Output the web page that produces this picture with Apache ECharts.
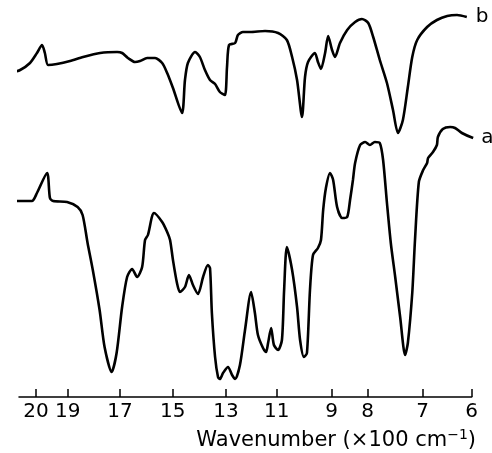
<!DOCTYPE html>
<html>
<head>
<meta charset="utf-8">
<script src="https://cdn.jsdelivr.net/npm/echarts@6/dist/echarts.min.js"></script>
<style>
  html, body { margin: 0; padding: 0; background: #fff; }
  #chart { width: 492px; height: 453px; }
</style>
</head>
<body>
<div id="chart"></div>
<script>
// tick labels (x100 cm-1)
const tickLabels = [20, 19, 17, 15, 13, 11, 9, 8, 7, 6]

// spectrum b (upper trace): wavenumber (x100 cm-1), transmittance (arb. units)
const wnB = [20.79, 20.50, 20.19, 19.97, 19.81, 19.72, 19.62, 19.34, 18.91, 18.41, 17.76, 17.11, 16.92, 16.70, 16.43, 16.24, 15.97, 15.67, 15.40, 15.21, 14.99, 14.65, 14.54, 14.43, 14.16, 13.98, 13.79, 13.60, 13.41, 13.23, 13.04, 12.96, 12.88, 12.64, 12.53, 12.33, 12.05, 11.46, 10.95, 10.63, 10.44, 10.26, 10.08, 9.97, 9.86, 9.61, 9.50, 9.39, 9.24, 9.13, 8.99, 8.91, 8.77, 8.57, 8.35, 8.16, 7.99, 7.90, 7.78, 7.65, 7.54, 7.45, 7.36, 7.27, 7.19, 7.10, 6.91, 6.71, 6.50, 6.30, 6.10]
const tB = [324, 327, 334, 344, 352, 344, 332, 333, 336, 340, 344, 345, 344, 339, 335, 336, 339, 339, 334, 324, 309, 284, 317, 334, 345, 340, 327, 317, 313, 305, 302, 330, 352, 354, 362, 365, 365, 366, 364, 357, 340, 317, 280, 320, 335, 344, 335, 328, 344, 361, 347, 340, 354, 367, 375, 378, 374, 360, 337, 314, 287, 264, 277, 310, 340, 357, 370, 377, 381, 382, 380]

// spectrum a (lower trace)
const wnA = [20.79, 20.13, 19.97, 19.65, 19.56, 19.46, 19.02, 18.62, 18.43, 18.24, 18.04, 17.78, 17.59, 17.32, 17.13, 16.92, 16.73, 16.54, 16.35, 16.16, 16.05, 15.94, 15.79, 15.71, 15.40, 15.21, 15.10, 14.99, 14.84, 14.73, 14.54, 14.39, 14.24, 14.05, 13.86, 13.68, 13.60, 13.53, 13.41, 13.30, 13.23, 13.11, 12.92, 12.76, 12.64, 12.45, 12.25, 12.01, 11.86, 11.74, 11.54, 11.42, 11.34, 11.22, 11.11, 10.95, 10.81, 10.73, 10.63, 10.44, 10.26, 10.15, 10.01, 9.90, 9.79, 9.68, 9.50, 9.39, 9.31, 9.21, 9.06, 8.96, 8.85, 8.71, 8.57, 8.49, 8.41, 8.35, 8.21, 8.07, 7.96, 7.87, 7.78, 7.72, 7.65, 7.58, 7.50, 7.41, 7.32, 7.27, 7.19, 7.14, 7.07, 6.99, 6.91, 6.89, 6.79, 6.71, 6.69, 6.59, 6.44, 6.34, 6.20, 5.97]
const tA = [196, 196, 204, 224, 199, 196, 195, 190, 182, 154, 127, 87, 50, 25, 44, 90, 120, 128, 120, 130, 157, 162, 180, 184, 175, 165, 157, 137, 114, 105, 110, 122, 112, 103, 120, 132, 129, 84, 40, 20, 18, 24, 30, 22, 18, 32, 67, 105, 84, 62, 49, 45, 54, 69, 52, 47, 57, 107, 150, 127, 90, 57, 40, 44, 107, 142, 149, 157, 187, 209, 224, 217, 190, 179, 180, 197, 217, 234, 252, 255, 252, 255, 254, 237, 194, 154, 120, 80, 42, 54, 104, 157, 215, 227, 234, 239, 245, 252, 260, 268, 270, 269, 264, 259]

// the printed wavenumber scale is not uniform: relative position of each tick
const SCALE_POS = [36, 67.7, 120, 172.7, 226, 276.7, 331.7, 367.7, 422.7, 471.7]

// wavenumber -> position on the drawn scale (piecewise linear)
function warp(wn) {
    const s = tickLabels, p = SCALE_POS
    let i = 0
    if (wn >= s[0]) i = 0
    else if (wn <= s[s.length - 1]) i = s.length - 2
    else while (!(wn <= s[i] && wn >= s[i + 1])) i++
    return p[i] + (wn - s[i]) * (p[i + 1] - p[i]) / (s[i + 1] - s[i])
}

const tickPos = tickLabels.map(warp)
const font = 'DejaVu Sans'

const chart = echarts.init(document.getElementById('chart'))
chart.setOption({
    animation: false,
    backgroundColor: '#fff',
    title: {
        text: 'Wavenumber (×100 cm{sup|−1})',
        right: 11,
        top: 423,
        textStyle: {
            fontFamily: font, fontSize: 21, fontWeight: 'normal', color: '#000', lineHeight: 25,
            rich: { sup: { fontFamily: font, fontSize: 14, color: '#000', padding: [0, 0, 10, 0] } }
        }
    },
    grid: { left: 19, right: 20.3, top: 0, bottom: 56 },
    xAxis: {
        type: 'value',
        min: 19,
        max: 471.7,
        axisLine: { lineStyle: { color: '#000', width: 1.5 } },
        axisTick: { inside: true, length: 8, customValues: tickPos, lineStyle: { color: '#000', width: 1.5 } },
        axisLabel: {
            customValues: tickPos,
            margin: 5,
            fontFamily: font, fontSize: 20, color: '#000',
            formatter: v => {
                let best = 0
                tickPos.forEach((p, i) => { if (Math.abs(p - v) < Math.abs(tickPos[best] - v)) best = i })
                return String(tickLabels[best])
            }
        },
        splitLine: { show: false }
    },
    yAxis: { type: 'value', min: 0, max: 397, show: false },
    series: [
        {
            name: 'b', type: 'line', clip: false, showSymbol: false, smooth: 0.25,
            data: wnB.map((w, i) => [warp(w), tB[i]]),
            lineStyle: { color: '#000', width: 2.6 },
            endLabel: { show: true, formatter: 'b', distance: 9, fontFamily: font, fontSize: 20, color: '#000' }
        },
        {
            name: 'a', type: 'line', clip: false, showSymbol: false, smooth: 0.25,
            data: wnA.map((w, i) => [warp(w), tA[i]]),
            lineStyle: { color: '#000', width: 2.6 },
            endLabel: { show: true, formatter: 'a', distance: 8, fontFamily: font, fontSize: 20, color: '#000' }
        }
    ]
})
</script>
</body>
</html>
